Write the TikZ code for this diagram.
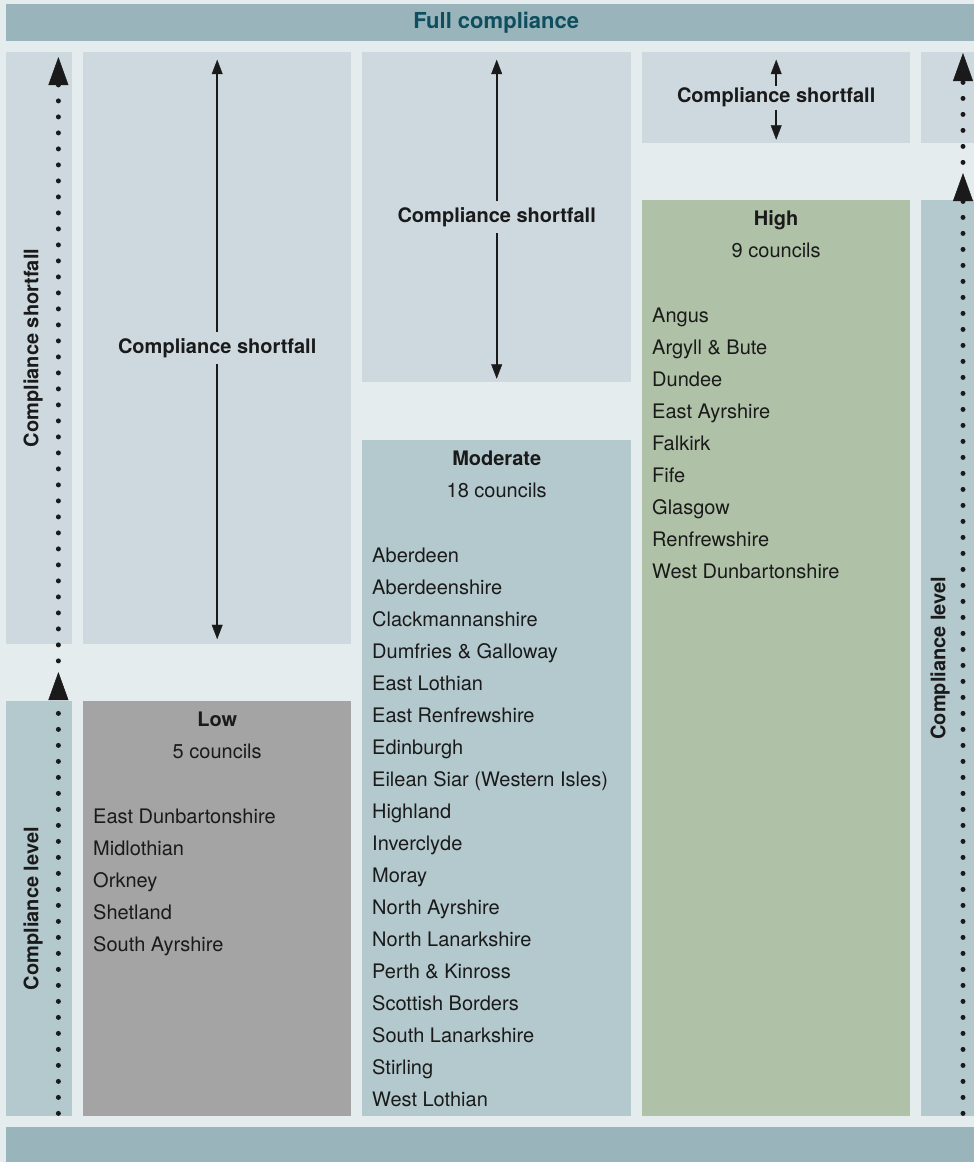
\documentclass[tikz,border=0pt]{standalone}
\usepackage{fontspec}
\setmainfont{TeX Gyre Heros}
\usetikzlibrary{calc, arrows.meta, decorations.markings}

\definecolor{bgcol}{HTML}{E5ECEE}
\definecolor{barcol}{HTML}{99B5BB}
\definecolor{gapcol}{HTML}{CDD9DE}
\definecolor{levcol}{HTML}{B4C9CE}
\definecolor{lowcol}{HTML}{A3A4A3}
\definecolor{highcol}{HTML}{AFC2A7}
\definecolor{titlecol}{HTML}{0F4E5E}
\definecolor{inkcol}{HTML}{1A1A1A}

\tikzstyle{Box} = [draw=none, inner sep=0pt, anchor=north west]
\tikzstyle{Head} = [font=\fontsize{20}{24}\selectfont\bfseries, text=inkcol, inner sep=6pt]
\tikzstyle{Count} = [font=\fontsize{20}{24}\selectfont, text=inkcol, anchor=base]
% base of a list node = baseline of its last line
\tikzstyle{List} = [font=\fontsize{20}{32}\selectfont, text=inkcol, align=left,
anchor=base west, inner sep=0pt]
\tikzstyle{Arrow} = [
line width=2.2pt, draw=inkcol,
decoration={
markings,
mark=at position 0.9999 with {
\arrow[inkcol]{Triangle[width=13pt,length=18pt]}}},
shorten >= 9pt, preaction = {decorate}]
\tikzstyle{DotArrow} = [
line width=5pt, draw=inkcol, line cap=round, dash pattern=on 0pt off 16pt,
decoration={
markings,
mark=at position 0.9999 with {
\arrow[inkcol]{Triangle[width=20pt,length=28pt,line width=0.5pt]}}},
shorten >= 14pt, preaction = {decorate}]

\begin{document}
\begin{tikzpicture}[x=1pt, y=-1pt]
    \fill[bgcol] (0,0) rectangle (974,1162);
    \useasboundingbox (0,0) rectangle (974,1162);

    % bars and boxes
    \node[Box, fill=barcol, minimum width=968pt, minimum height=37pt] (top) at (6,4) {};
    \node[Box, fill=gapcol, minimum width=66pt, minimum height=591.5pt] (lsf) at (6,52) {};
    \node[Box, fill=levcol, minimum width=66pt, minimum height=415pt] (llv) at (6,701) {};
    \node[Box, fill=gapcol, minimum width=268pt, minimum height=591.5pt] (sf1) at (83,52) {};
    \node[Box, fill=lowcol, minimum width=268pt, minimum height=415pt] (low) at (83,701) {};
    \node[Box, fill=gapcol, minimum width=269pt, minimum height=330pt] (sf2) at (362,52) {};
    \node[Box, fill=levcol, minimum width=269pt, minimum height=676pt] (mod) at (362,440) {};
    \node[Box, fill=gapcol, minimum width=268pt, minimum height=91pt] (sf3) at (642,52) {};
    \node[Box, fill=highcol, minimum width=268pt, minimum height=916pt] (high) at (642,200) {};
    \node[Box, fill=gapcol, minimum width=60pt, minimum height=91pt] (rsf) at (921,52) {};
    \node[Box, fill=levcol, minimum width=60pt, minimum height=916pt] (rlv) at (921,200) {};
    \node[Box, fill=barcol, minimum width=968pt, minimum height=40pt] (bot) at (6,1127) {};

    \node[Head, font=\fontsize{22}{26}\selectfont\bfseries, text=titlecol] (full)
        at ($(top.center)+(6,0)$) {Full compliance};

    % groups
    \node[Head, anchor=base] (lowh) at ($(low.north)+(0,25)$) {Low};
    \node[Count] (lown) at ($(low.north)+(0,57)$) {5 councils};
    \node[List] (lowl) at ($(low.north west)+(10,250)$)
        {East Dunbartonshire\\Midlothian\\Orkney\\Shetland\\South Ayrshire};

    \node[Head, anchor=base] (modh) at ($(mod.north)+(0,25)$) {Moderate};
    \node[Count] (modn) at ($(mod.north)+(0,57)$) {18 councils};
    \node[List] (modl) at ($(mod.north west)+(10,666)$)
        {Aberdeen\\Aberdeenshire\\Clackmannanshire\\Dumfries \& Galloway\\East Lothian\\
        East Renfrewshire\\Edinburgh\\Eilean Siar (Western Isles)\\Highland\\Inverclyde\\
        Moray\\North Ayrshire\\North Lanarkshire\\Perth \& Kinross\\Scottish Borders\\
        South Lanarkshire\\Stirling\\West Lothian};

    \node[Head, anchor=base] (highh) at ($(high.north)+(0,25)$) {High};
    \node[Count] (highn) at ($(high.north)+(0,57)$) {9 councils};
    \node[List] (highl) at ($(high.north west)+(10,378)$)
        {Angus\\Argyll \& Bute\\Dundee\\East Ayrshire\\Falkirk\\Fife\\Glasgow\\
        Renfrewshire\\West Dunbartonshire};

    % shortfall arrows
    \node[Head] (s1) at (sf1.center) {Compliance shortfall};
    \node[Head] (s2) at (sf2.center) {Compliance shortfall};
    \node[Head, inner sep=2pt] (s3) at (sf3.center) {Compliance shortfall};
    \coordinate (s1t) at ($(sf1.north)+(0,5)$);
    \coordinate (s1b) at ($(sf1.south)+(0,-2)$);
    \coordinate (s2t) at ($(sf2.north)+(0,5)$);
    \coordinate (s2b) at ($(sf2.south)+(0,-1)$);
    \coordinate (s3t) at ($(sf3.north)+(0,5)$);
    \coordinate (s3b) at ($(sf3.south)+(0,-1)$);
    \draw[Arrow] (s1) -- (s1t);
    \draw[Arrow] (s1) -- (s1b);
    \draw[Arrow] (s2) -- (s2t);
    \draw[Arrow] (s2) -- (s2b);
    \draw[Arrow] (s3) -- (s3t);
    \draw[Arrow] (s3) -- (s3b);

    % side scales
    \node[Head, rotate=90] (lsft) at ($(lsf.center)+(-6,0)$) {Compliance shortfall};
    \node[Head, rotate=90] (llvt) at ($(llv.center)+(-6,0)$) {Compliance level};
    \node[Head, rotate=90] (rlvt) at ($(rlv.west)+(19,0)$) {Compliance level};

    \coordinate (ld0) at ($(llv.south east)+(-14,-3)$);
    \coordinate (ld1) at ($(llv.north east)+(-14,-29)$);
    \coordinate (ld2) at ($(lsf.south east)+(-14,17)$);
    \coordinate (ld3) at ($(lsf.north east)+(-14,5)$);
    \coordinate (rd0) at ($(rlv.south west)+(42,-3)$);
    \coordinate (rd1) at ($(rlv.north west)+(42,-27)$);
    \coordinate (rd2) at ($(rsf.south west)+(42,19)$);
    \coordinate (rd3) at ($(rsf.north west)+(42,1)$);
    \draw[DotArrow] (ld0) -- (ld1);
    \draw[DotArrow] (ld2) -- (ld3);
    \draw[DotArrow] (rd0) -- (rd1);
    \draw[DotArrow] (rd2) -- (rd3);
\end{tikzpicture}
\end{document}
